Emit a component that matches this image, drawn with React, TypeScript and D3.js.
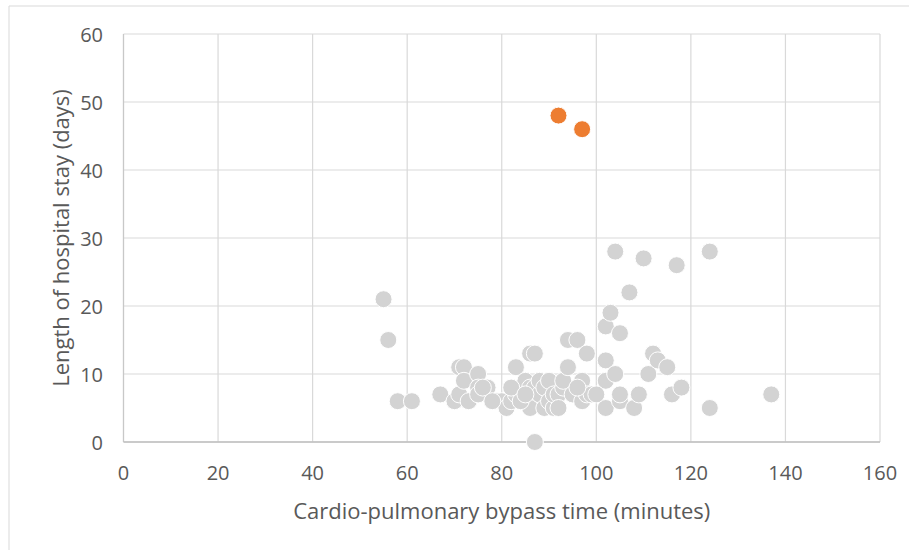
import React from "react";
import * as d3 from "d3";

const bypassMinutes: number[] = [
  55, 56, 58, 61, 67, 70, 71, 71, 72, 72, 73, 75, 75, 75, 77, 79, 80, 81, 82, 83,
  83, 84, 85, 85, 86, 87, 86, 86, 87, 87, 88, 88, 89, 89, 90, 90, 91, 91, 92, 93,
  93, 94, 94, 96, 95, 97, 97, 97, 98, 99, 98, 102, 102, 102, 102, 103, 104, 104, 105, 105,
  105, 107, 108, 109, 110, 111, 112, 113, 115, 116, 117, 118, 124, 124, 137, 84, 92, 96, 100, 76,
  78, 82, 85,
];
const stayDays: number[] = [
  21, 15, 6, 6, 7, 6, 7, 11, 11, 9, 6, 10, 8, 7, 8, 6, 6, 5, 6, 7,
  11, 8, 8, 9, 13, 13, 8, 5, 8, 0, 7, 9, 5, 8, 6, 9, 5, 7, 7, 8,
  9, 11, 15, 15, 7, 6, 8, 9, 7, 7, 13, 5, 9, 12, 17, 19, 10, 28, 16, 6,
  7, 22, 5, 7, 27, 10, 13, 12, 11, 7, 26, 8, 28, 5, 7, 6, 5, 8, 7, 8,
  6, 8, 7,
];
const outlierMinutes: number[] = [92, 97];
const outlierDays: number[] = [48, 46];

const xTicks: number[] = [0, 20, 40, 60, 80, 100, 120, 140, 160];
const yTicks: number[] = [0, 10, 20, 30, 40, 50, 60];

const xTitle = "Cardio-pulmonary bypass time (minutes)";
const yTitle = "Length of hospital stay (days)";

export default function App() {
  const W = 909;
  const H = 550;
  const left = 123.5;
  const right = 880;
  const top = 34;
  const bottom = 442;
  const x = d3.scaleLinear().domain([0, 160]).range([left, right]);
  const y = d3.scaleLinear().domain([0, 60]).range([bottom, top]);
  const font = "'Open Sans', sans-serif";
  const textColor = "#595959";
  const grid = "#D9D9D9";
  const gray = bypassMinutes.map((m, i) => ({ x: m, y: stayDays[i] }));
  const orange = outlierMinutes.map((m, i) => ({ x: m, y: outlierDays[i] }));

  return (
    <svg
      width={W}
      height={H}
      style={{ position: "absolute", left: 0, top: 0, background: "#fff" }}
    >
      <rect x={0} y={0} width={W} height={H} fill="#fff" />
      <line x1={9} y1={6} x2={9} y2={H} stroke="#D9D9D9" strokeWidth={1} />
      <line x1={9} y1={6} x2={W} y2={6} stroke="#D9D9D9" strokeWidth={1} />
      {yTicks.map((t) => (
        <line key={"gy" + t} x1={left} x2={right} y1={y(t)} y2={y(t)} stroke={grid} strokeWidth={1.2} />
      ))}
      {xTicks.map((t) => (
        <line key={"gx" + t} x1={x(t)} x2={x(t)} y1={top} y2={bottom} stroke={grid} strokeWidth={1.2} />
      ))}
      <line x1={left} x2={left} y1={top} y2={bottom} stroke="#C8C8C8" strokeWidth={1.2} />
      <line x1={left} x2={right} y1={bottom} y2={bottom} stroke="#BFBFBF" strokeWidth={1.5} />
      {yTicks.map((t) => (
        <text
          key={"ty" + t}
          x={103}
          y={y(t)}
          textAnchor="end"
          dominantBaseline="central"
          fontFamily={font}
          fontSize={20}
          fill={textColor}
        >
          {t}
        </text>
      ))}
      {xTicks.map((t) => (
        <text
          key={"tx" + t}
          x={x(t)}
          y={480}
          textAnchor="middle"
          fontFamily={font}
          fontSize={20}
          fill={textColor}
        >
          {t}
        </text>
      ))}
      <text
        x={(left + right) / 2}
        y={519}
        textAnchor="middle"
        fontFamily={font}
        fontSize={22}
        fill={textColor}
      >
        {xTitle}
      </text>
      <text
        transform={`translate(60, ${(top + bottom) / 2}) rotate(-90)`}
        textAnchor="middle"
        dominantBaseline="central"
        fontFamily={font}
        fontSize={22}
        fill={textColor}
      >
        {yTitle}
      </text>
      {gray.map((d, i) => (
        <circle key={"g" + i} cx={x(d.x)} cy={y(d.y)} r={8.5} fill="#D3D3D3" stroke="#fff" strokeWidth={1} />
      ))}
      {orange.map((d, i) => (
        <circle key={"o" + i} cx={x(d.x)} cy={y(d.y)} r={8.5} fill="#ED7D31" stroke="#fff" strokeWidth={1} />
      ))}
    </svg>
  );
}
